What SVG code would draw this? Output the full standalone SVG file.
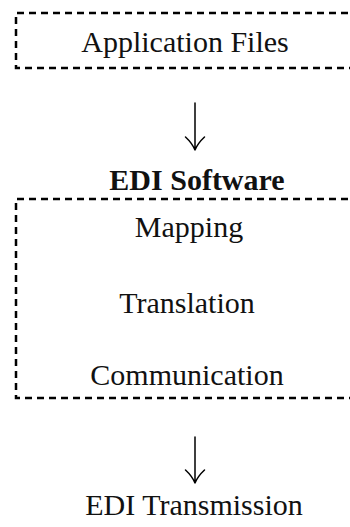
<svg xmlns="http://www.w3.org/2000/svg" width="350" height="527" viewBox="0 0 350 527">
  <style>
    .frame { fill: none; stroke: #000; stroke-width: 2.5; stroke-dasharray: 7 5; }
    text { font-family: 'Liberation Serif', 'Tinos', 'DejaVu Serif', serif; font-size: 30px; fill: #111; text-anchor: middle; }
    .bold { font-weight: bold; }
    .arrow { fill: none; stroke: #000; stroke-width: 1.5; stroke-linecap: round; stroke-linejoin: round; }
  </style>
  <rect width="350" height="527" fill="#fff"/>

  <g id="application-files">
    <path class="frame" d="M360 13 H16 V68 H360"/>
    <text x="185" y="52">Application Files</text>
  </g>

  <g id="edi-software">
    <text class="bold" x="197" y="190">EDI Software</text>
    <path class="frame" d="M360 199 H16 V398 H360"/>
    <text x="189" y="237">Mapping</text>
    <text x="187" y="313">Translation</text>
    <text x="187" y="385">Communication</text>
  </g>

  <g id="edi-transmission">
    <text x="194" y="515">EDI Transmission</text>
  </g>

  <!-- downward arrows between the stages -->
  <g id="connectors">
    <path class="arrow" d="M195 103 V150 M185.5 137 Q192 143 195 150 Q198 143 204.5 137"/>
    <path class="arrow" d="M195 437 V483 M185.5 470 Q192 476 195 483 Q198 476 204.5 470"/>
  </g>
</svg>
